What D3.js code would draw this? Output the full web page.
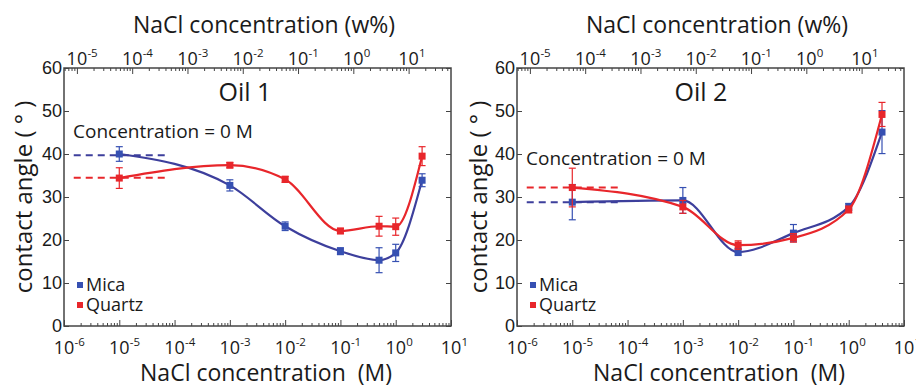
<!DOCTYPE html>
<html>
<head>
<meta charset="utf-8">
<script src="https://cdn.jsdelivr.net/npm/d3@7"></script>
<style>
  body { margin: 0; background: #fff; }
  svg { font-family: "Open Sans", "DejaVu Sans", sans-serif; }
</style>
</head>
<body>
<svg id="chart" width="916" height="387"></svg>
<script>
// ---- data ----
const oil1MicaX = [1e-5, 1e-3, 1e-2, 1e-1, 0.5, 1, 3];
const oil1MicaY = [40.0, 32.7, 23.2, 17.4, 15.3, 17.0, 33.9];
const oil1MicaErr = [1.7, 1.3, 1.0, 0.8, 2.9, 2.0, 1.5];
const oil1QuartzX = [1e-5, 1e-3, 1e-2, 1e-1, 0.5, 1, 3];
const oil1QuartzY = [34.4, 37.4, 34.1, 22.1, 23.2, 23.1, 39.5];
const oil1QuartzErr = [2.4, 0.6, 0.7, 0.6, 2.3, 2.0, 2.2];
const oil1Zero = { mica: 39.7, quartz: 34.5 };

const oil2MicaX = [1e-5, 1e-3, 1e-2, 1e-1, 1, 4];
const oil2MicaY = [28.8, 29.2, 17.2, 21.6, 27.7, 45.1];
const oil2MicaErr = [4.1, 3.0, 0.8, 2.0, 0.8, 5.0];
const oil2QuartzX = [1e-5, 1e-3, 1e-2, 1e-1, 1, 4];
const oil2QuartzY = [32.2, 27.7, 18.8, 20.5, 27.1, 49.2];
const oil2QuartzErr = [4.5, 1.5, 1.0, 1.0, 0.8, 2.8];
const oil2Zero = { mica: 28.8, quartz: 32.2 };

const zeroSpan = [1.5e-6, 8e-5];           // extent of the "0 M" dashed reference lines
const bottomExp = [-6, -5, -4, -3, -2, -1, 0, 1];
const topExp = [-5, -4, -3, -2, -1, 0, 1];
const yTicks = [0, 10, 20, 30, 40, 50, 60];
const wPerM = 5.844;                        // 1 M NaCl ~ 5.844 w%

const BLUE_LINE = '#3d3f9c', BLUE = '#3650b2';
const RED = '#e8262b';
const TXT = '#1a1a1a';
const W = 387, H = 258;

const svg = d3.select('#chart');

function drawPanel(ox, oy, cfg) {
  const g = svg.append('g').attr('transform', `translate(${ox},${oy})`);
  const x = d3.scaleLog().domain([1e-6, 10]).range([0, W]);
  const xTop = d3.scaleLog().domain([1e-6 * wPerM, 10 * wPerM]).range([0, W]);
  const y = d3.scaleLinear().domain([0, 60]).range([H, 0]);

  // minor log ticks
  const minors = (lo, hi) => {
    const out = [];
    for (let e = Math.floor(Math.log10(lo)); e <= Math.ceil(Math.log10(hi)); e++) {
      for (let k = 2; k <= 9; k++) {
        const v = k * Math.pow(10, e);
        if (v > lo && v < hi) out.push(v);
      }
    }
    return out;
  };

  const axisStyle = sel => {
    sel.select('.domain').remove();
    sel.selectAll('line').attr('stroke', '#444').attr('stroke-width', 1);
  };

  g.append('g').attr('transform', `translate(0,${H})`)
    .call(d3.axisBottom(x).tickValues(bottomExp.map(e => Math.pow(10, e))).tickSizeInner(-6).tickSizeOuter(0).tickFormat(''))
    .call(axisStyle);
  g.append('g').attr('transform', `translate(0,${H})`)
    .call(d3.axisBottom(x).tickValues(minors(1e-6, 10)).tickSizeInner(-3).tickSizeOuter(0).tickFormat(''))
    .call(axisStyle);
  g.append('g')
    .call(d3.axisTop(xTop).tickValues(topExp.map(e => Math.pow(10, e))).tickSizeInner(-6).tickSizeOuter(0).tickFormat(''))
    .call(axisStyle);
  g.append('g')
    .call(d3.axisTop(xTop).tickValues(minors(xTop.domain()[0], xTop.domain()[1])).tickSizeInner(-3).tickSizeOuter(0).tickFormat(''))
    .call(axisStyle);
  g.append('g')
    .call(d3.axisLeft(y).tickValues(yTicks).tickSizeInner(-5).tickSizeOuter(0).tickPadding(2))
    .call(axisStyle)
    .selectAll('text').attr('font-size', 18).attr('fill', TXT).attr('font-family', null);
  g.append('g').attr('transform', `translate(${W},0)`)
    .call(d3.axisRight(y).tickValues(yTicks).tickSizeInner(-5).tickSizeOuter(0).tickFormat(''))
    .call(axisStyle);

  // power-of-ten labels
  const powLabel = (px, baseY, e) => {
    g.append('text').attr('x', px).attr('y', baseY).attr('text-anchor', 'middle')
      .attr('font-size', 18).attr('fill', TXT).text('10');
    g.append('text').attr('x', px + 10.5).attr('y', baseY - 8)
      .attr('font-size', 11.5).attr('fill', TXT).text(e);
  };
  bottomExp.forEach(e => powLabel(x(Math.pow(10, e)), H + 28, e));
  topExp.forEach(e => powLabel(xTop(Math.pow(10, e)), -3, e));

  // frame
  g.append('rect').attr('width', W).attr('height', H)
    .attr('fill', 'none').attr('stroke', '#444').attr('stroke-width', 1.5);

  // dashed zero-concentration lines
  [[cfg.zero.mica, BLUE_LINE], [cfg.zero.quartz, RED]].forEach(([v, c]) => {
    g.append('line')
      .attr('x1', x(zeroSpan[0])).attr('x2', x(zeroSpan[1]))
      .attr('y1', y(v)).attr('y2', y(v))
      .attr('stroke', c).attr('stroke-width', 2).attr('stroke-dasharray', '7,5');
  });

  const line = d3.line()
    .x(d => x(d[0])).y(d => y(d[1]))
    .curve(d3.curveMonotoneX);

  cfg.series.forEach(s => {
    const pts = s.xs.map((v, i) => [v, s.ys[i], s.err[i]]);
    g.append('path').datum(pts).attr('d', line)
      .attr('fill', 'none').attr('stroke', s.line).attr('stroke-width', 2.2);
    const eb = g.append('g').attr('stroke', s.color).attr('stroke-width', 1.2);
    pts.forEach(d => {
      const cx = x(d[0]);
      eb.append('line').attr('x1', cx).attr('x2', cx).attr('y1', y(d[1] - d[2])).attr('y2', y(d[1] + d[2]));
      eb.append('line').attr('x1', cx - 3.5).attr('x2', cx + 3.5).attr('y1', y(d[1] - d[2])).attr('y2', y(d[1] - d[2]));
      eb.append('line').attr('x1', cx - 3.5).attr('x2', cx + 3.5).attr('y1', y(d[1] + d[2])).attr('y2', y(d[1] + d[2]));
    });
    g.selectAll(null).data(pts).enter().append('rect')
      .attr('x', d => x(d[0]) - 3.5).attr('y', d => y(d[1]) - 3.5)
      .attr('width', 7).attr('height', 7).attr('fill', s.color);
  });

  // legend
  cfg.series.forEach((s, i) => {
    g.append('rect').attr('x', 13).attr('y', 214 + i * 20).attr('width', 6).attr('height', 6).attr('fill', s.color);
    g.append('text').attr('x', 22).attr('y', 223 + i * 20).attr('font-size', 18).attr('fill', TXT).text(s.name);
  });

  // texts
  g.append('text').attr('x', cfg.titleX).attr('y', 33).attr('text-anchor', 'middle')
    .attr('font-size', 25).attr('fill', TXT).text(cfg.title);
  g.append('text').attr('x', 9).attr('y', cfg.zeroTextY)
    .attr('font-size', 19).attr('fill', TXT).text('Concentration = 0 M');
  g.append('text').attr('x', 200).attr('y', -35).attr('text-anchor', 'middle')
    .attr('font-size', 23).attr('fill', TXT).text('NaCl concentration (w%)');
  g.append('text').attr('x', 202).attr('y', H + 55).attr('text-anchor', 'middle')
    .attr('font-size', 23).attr('fill', TXT).style('white-space', 'pre').text('NaCl concentration  (M)');
  g.append('text').attr('transform', `translate(${cfg.yLabelX},${H / 2}) rotate(-90)`)
    .attr('text-anchor', 'middle').attr('font-size', 24).attr('fill', TXT)
    .style('white-space', 'pre').text('contact angle ( ° )');
}

drawPanel(64, 68, {
  title: 'Oil 1', titleX: 181, zeroTextY: 70, zero: oil1Zero, yLabelX: -32,
  series: [
    { name: 'Mica', xs: oil1MicaX, ys: oil1MicaY, err: oil1MicaErr, color: BLUE, line: BLUE_LINE },
    { name: 'Quartz', xs: oil1QuartzX, ys: oil1QuartzY, err: oil1QuartzErr, color: RED, line: RED }
  ]
});
drawPanel(517, 68, {
  title: 'Oil 2', titleX: 184, zeroTextY: 97, zero: oil2Zero, yLabelX: -30,
  series: [
    { name: 'Mica', xs: oil2MicaX, ys: oil2MicaY, err: oil2MicaErr, color: BLUE, line: BLUE_LINE },
    { name: 'Quartz', xs: oil2QuartzX, ys: oil2QuartzY, err: oil2QuartzErr, color: RED, line: RED }
  ]
});
</script>
</body>
</html>
